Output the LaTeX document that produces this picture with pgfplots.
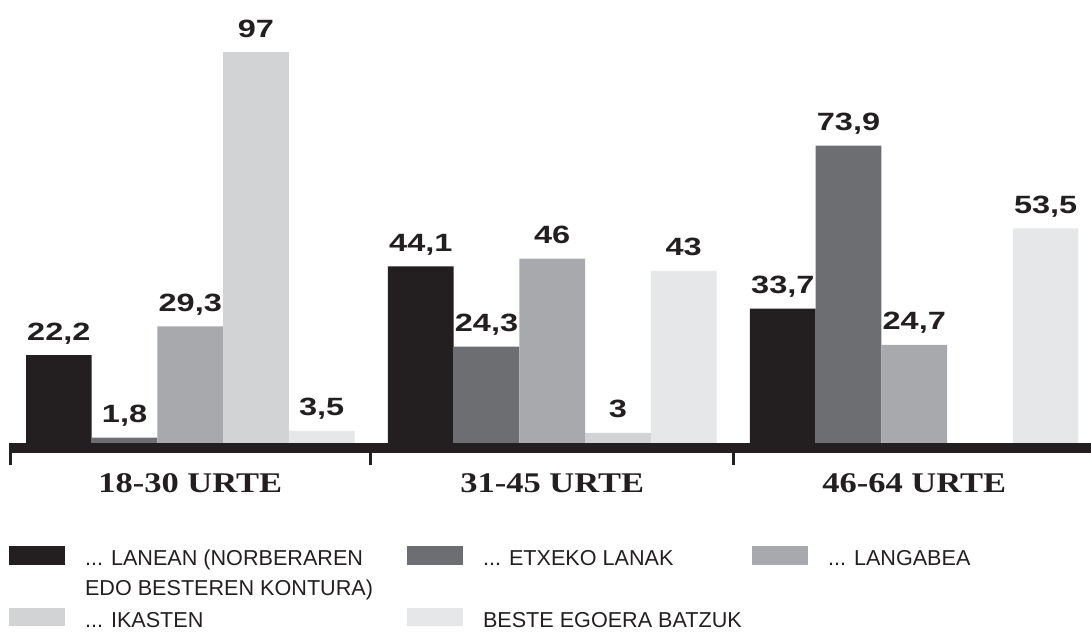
\documentclass[border=0pt]{standalone}
\usepackage{pgfplots}
\pgfplotsset{compat=1.18}
\usepackage{fontspec}
\setmainfont{Liberation Sans}
\newfontfamily\valfont[FakeStretch=1.3]{Liberation Sans}
\newfontfamily\grpfont[FakeStretch=1.21]{Liberation Serif}
\newfontfamily\legfont{Liberation Sans}
\definecolor{c1}{HTML}{231F20}
\definecolor{c2}{HTML}{6D6E71}
\definecolor{c3}{HTML}{A7A9AC}
\definecolor{c4}{HTML}{D1D3D4}
\definecolor{c5}{HTML}{E6E7E8}
\definecolor{txt}{HTML}{231F20}
\pgfplotsset{legbox/.style={legend image code/.code={\fill[##1,draw=none] (0bp,1bp) rectangle (56bp,19.5bp);}}}
\begin{document}
\begin{tikzpicture}
\useasboundingbox (0,0) rectangle (1091bp,-636bp);
\begin{axis}[
  at={(0bp,-445bp)}, anchor=south west,
  scale only axis, width=1091bp, height=445bp,
  xmin=-0.5256, xmax=2.4883, ymin=0, ymax=109.88,
  ybar=0pt, bar width=0.1815,
  axis y line=none, axis x line*=bottom,
  x axis line style={draw=none},
  xtick={0,1,2}, xticklabels={18-30 URTE,31-45 URTE,46-64 URTE},
  major tick length=0pt, xtick style={draw=none},
  xticklabel style={anchor=base, yshift=-47bp, inner sep=0pt,
    font=\grpfont\bfseries\fontsize{28.5bp}{34bp}\selectfont, text=txt},
  clip=false,
  nodes near coords,
  every node near coord/.append style={anchor=base, yshift=15bp, inner sep=0pt,
    font=\valfont\bfseries\fontsize{25bp}{30bp}\selectfont, text=txt},
  /pgf/number format/use comma,
  /pgf/number format/assume math mode=true,
  legend columns=3,
  legend style={at={(0.00825,-0.227)}, anchor=north west, draw=none, fill=none,
    inner sep=0pt, outer sep=0pt,
    font=\legfont\fontsize{21.6bp}{30bp}\selectfont, text=txt,
    cells={anchor=base west}, nodes={inner sep=0pt},
    row sep=40.5bp,
    /tikz/every odd column/.append style={column sep=20bp},
    /tikz/every even column/.append style={column sep=0bp}},
]
\addplot[fill=c1, draw=none, legbox]
  coordinates {(0,22.2) (1,44.1) (2,33.7)};
\addlegendentry{\makebox[322bp][l]{\vtop{\hbox{... LANEAN (NORBERAREN}\hbox{EDO BESTEREN KONTURA)}}}}
\addplot[fill=c2, draw=none, legbox]
  coordinates {(0,1.8) (1,24.3) (2,73.9)};
\addlegendentry{\makebox[269bp][l]{... ETXEKO LANAK}}
\addplot[fill=c3, draw=none, legbox]
  coordinates {(0,29.3) (1,46) (2,24.7)};
\addlegendentry{... LANGABEA}
\addplot[fill=c4, draw=none, legbox]
  coordinates {(0,97) (1,3)};
\addlegendentry{\makebox[322bp][l]{... IKASTEN}}
\addplot[fill=c5, draw=none, legbox]
  coordinates {(0,3.5) (1,43) (2,53.5)};
\addlegendentry{\makebox[269bp][l]{BESTE EGOERA BATZUK}}
\end{axis}
\fill[txt] (9bp,-443bp) rectangle (1091bp,-453bp);
\fill[txt] (9.3bp,-452bp) rectangle (12bp,-465bp);
\fill[txt] (369.3bp,-452bp) rectangle (372bp,-465bp);
\fill[txt] (732.3bp,-452bp) rectangle (735bp,-465bp);
\end{tikzpicture}
\end{document}
